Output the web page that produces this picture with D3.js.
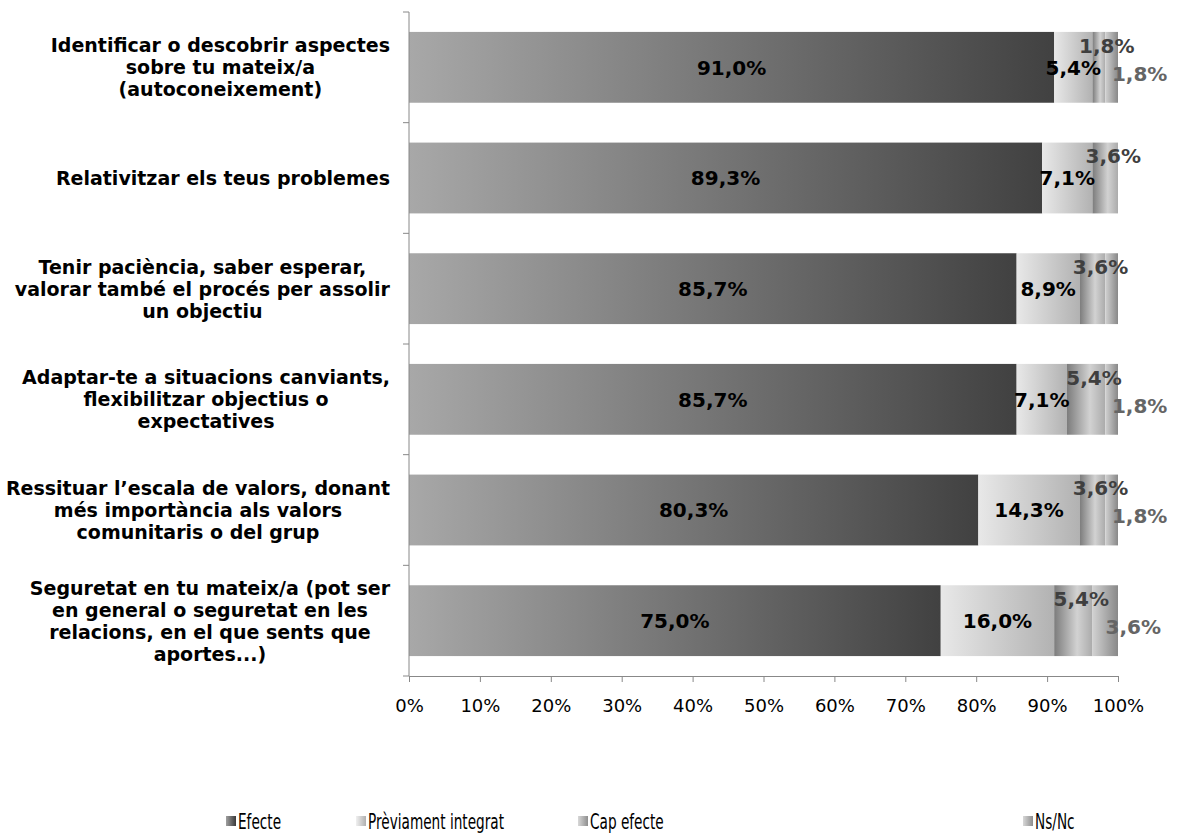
<!DOCTYPE html>
<html>
<head>
<meta charset="utf-8">
<script src="https://cdn.jsdelivr.net/npm/d3@7"></script>
<style>
  body { margin: 0; background: #fff; }
  svg { display: block; }
</style>
</head>
<body>
<svg id="vis" width="1177" height="838"></svg>
<script>
// category labels, already broken in lines as in the original
const categories = [
  ["Identificar o descobrir aspectes", "sobre tu mateix/a", "(autoconeixement)"],
  ["Relativitzar els teus problemes"],
  ["Tenir paciència, saber esperar,", "valorar també el procés per assolir", "un objectiu"],
  ["Adaptar-te a situacions canviants,", "flexibilitzar objectius o", "expectatives"],
  ["Ressituar l’escala de valors, donant", "més importància als valors", "comunitaris o del grup"],
  ["Seguretat en tu mateix/a (pot ser", "en general o seguretat en les", "relacions, en el que sents que", "aportes...)"]
];

const seriesNames = ["Efecte", "Prèviament integrat", "Cap efecte", "Ns/Nc"];

const efecte    = [91.0, 89.3, 85.7, 85.7, 80.3, 75.0];
const previ     = [5.4, 7.1, 8.9, 7.1, 14.3, 16.0];
const capEfecte = [1.8, 3.6, 3.6, 5.4, 3.6, 5.4];
const nsnc      = [1.8, 0, 1.8, 1.8, 1.8, 3.6];

// labels the original does not show: [row, series]
const hiddenLabels = [[2, 3]];

const xTicks = [0, 10, 20, 30, 40, 50, 60, 70, 80, 90, 100];

const margin = { top: 12, left: 409, right: 59, bottom: 162 };
const width = 1177, height = 838;

translate = function(a, b) {
  return "translate(" + a + ", " + b + ")";
}

const svg = d3.select("#vis");
const defs = svg.append("defs");

// gradient fill for every series (bars are shaded left to right)
const gradStops = [
  [[0, "#a8a8a8"], [1, "#414141"]],
  [[0, "#e8e8e8"], [1, "#b2b2b2"]],
  [[0, "#7c7c7c"], [0.6, "#d2d2d2"], [1, "#ababab"]],
  [[0, "#d2d2d2"], [1, "#888888"]]
];
const swatchStops = [
  [[0, "#a0a0a0"], [1, "#3a3a3a"]],
  [[0, "#f0f0f0"], [1, "#b0b0b0"]],
  [[0, "#d8d8d8"], [1, "#8e8e8e"]],
  [[0, "#d8d8d8"], [1, "#8e8e8e"]]
];
function addGrad(id, stops) {
  let g = defs.append("linearGradient").attr("id", id)
    .attr("x1", "0").attr("x2", "1").attr("y1", "0").attr("y2", "0");
  stops.forEach(function(s) {
    g.append("stop").attr("offset", s[0]).attr("stop-color", s[1]);
  });
}
gradStops.forEach(function(s, i) { addGrad("g" + i, s); });
swatchStops.forEach(function(s, i) { addGrad("s" + i, s); });

const plotW = width - margin.left - margin.right;
const plotH = height - margin.top - margin.bottom;

const x = d3.scaleLinear().domain([0, 100]).range([0, plotW]);
const y = d3.scaleBand().domain(d3.range(categories.length))
  .range([0, plotH]).paddingInner(0.36).paddingOuter(0.18);

const plot = svg.append("g").attr("transform", translate(margin.left, margin.top));

// stack the four series
const rows = categories.map(function(c, i) {
  return { efecte: efecte[i], previ: previ[i], cap: capEfecte[i], nsnc: nsnc[i] };
});
const keys = ["efecte", "previ", "cap", "nsnc"];
const stacked = d3.stack().keys(keys)(rows);

const layers = plot.selectAll("g.layer")
  .data(stacked)
  .enter().append("g")
  .attr("class", "layer")
  .attr("fill", function(d, i) { return "url(#g" + i + ")"; });

layers.selectAll("rect")
  .data(function(d) { return d; })
  .enter().append("rect")
  .attr("x", function(d) { return x(d[0]); })
  .attr("y", function(d, i) { return y(i); })
  .attr("width", function(d) { return x(d[1]) - x(d[0]); })
  .attr("height", y.bandwidth());

// data labels
const labelStyle = [
  { color: "#000", dx: 0, dy: 0 },
  { color: "#000", dx: 0, dy: 0 },
  { color: "#3f3f3f", dx: 8, dy: -22 },
  { color: "#656565", dx: 28, dy: 6 }
];
const fmt = function(v) { return v.toFixed(1).replace(".", ",") + "%"; };
function isHidden(r, s) {
  return hiddenLabels.some(function(h) { return h[0] == r && h[1] == s; });
}

stacked.forEach(function(layer, s) {
  plot.append("g").selectAll("text")
    .data(layer.map(function(d, i) { return { d: d, i: i }; })
      .filter(function(o) { return o.d[1] - o.d[0] > 0 && !isHidden(o.i, s); }))
    .enter().append("text")
    .attr("x", function(o) { return x((o.d[0] + o.d[1]) / 2) + labelStyle[s].dx; })
    .attr("y", function(o) { return y(o.i) + y.bandwidth() / 2 + labelStyle[s].dy; })
    .attr("dy", "0.36em")
    .attr("text-anchor", "middle")
    .style("font-family", "DejaVu Sans, Verdana, sans-serif")
    .style("font-weight", "bold")
    .style("font-size", "20px")
    .attr("fill", labelStyle[s].color)
    .text(function(o) { return fmt(o.d[1] - o.d[0]); });
});

// axes
const axisColor = "#888";
const xAxis = plot.append("g")
  .attr("transform", translate(0, plotH))
  .call(d3.axisBottom(x).tickValues(xTicks).tickSize(6).tickSizeOuter(0)
    .tickFormat(function(d) { return d + "%"; }));
xAxis.select(".domain").attr("stroke", axisColor);
xAxis.selectAll(".tick line").attr("stroke", axisColor);
xAxis.selectAll("text")
  .attr("y", 23)
  .attr("fill", "#000")
  .style("font-family", "DejaVu Sans, Tahoma, sans-serif")
  .style("font-size", "18px");

// y axis: line and ticks at category boundaries
const yAxis = plot.append("g");
yAxis.append("line")
  .attr("x1", 0).attr("x2", 0).attr("y1", 0).attr("y2", plotH)
  .attr("stroke", axisColor);
yAxis.selectAll("line.tk")
  .data(d3.range(categories.length + 1))
  .enter().append("line")
  .attr("class", "tk")
  .attr("x1", -6).attr("x2", 0)
  .attr("y1", function(d) { return d * y.step(); })
  .attr("y2", function(d) { return d * y.step(); })
  .attr("stroke", axisColor);

// category labels: block right aligned, lines centred inside it
const lineH = 22;
categories.forEach(function(lines, i) {
  let g = svg.append("g");
  let cy = margin.top + y(i) + y.bandwidth() / 2;
  let texts = g.selectAll("text")
    .data(lines)
    .enter().append("text")
    .attr("y", function(d, j) { return cy + (j - (lines.length - 1) / 2) * lineH; })
    .attr("dy", "0.36em")
    .attr("text-anchor", "middle")
    .style("font-family", "DejaVu Sans, Tahoma, sans-serif")
    .style("font-weight", "bold")
    .style("font-size", "19px")
    .attr("fill", "#000")
    .text(function(d) { return d; });
  let maxW = d3.max(texts.nodes(), function(n) { return n.getComputedTextLength(); });
  texts.attr("x", margin.left - 19 - maxW / 2);
});

// legend
const legendX = [226, 356, 578, 1023];
const legendY = 821;
const legend = svg.append("g");
seriesNames.forEach(function(name, i) {
  legend.append("rect")
    .attr("x", legendX[i]).attr("y", legendY - 5)
    .attr("width", 10).attr("height", 10)
    .attr("fill", "url(#s" + i + ")");
  let t = legend.append("text")
    .attr("x", legendX[i] + 12).attr("y", legendY)
    .attr("dy", "0.36em")
    .style("font-family", "DejaVu Sans, Tahoma, sans-serif")
    .style("font-size", "22px")
    .attr("fill", "#000")
    .text(name);
  let w = t.node().getComputedTextLength();
  t.attr("textLength", w * 0.62).attr("lengthAdjust", "spacingAndGlyphs");
});
</script>
</body>
</html>
